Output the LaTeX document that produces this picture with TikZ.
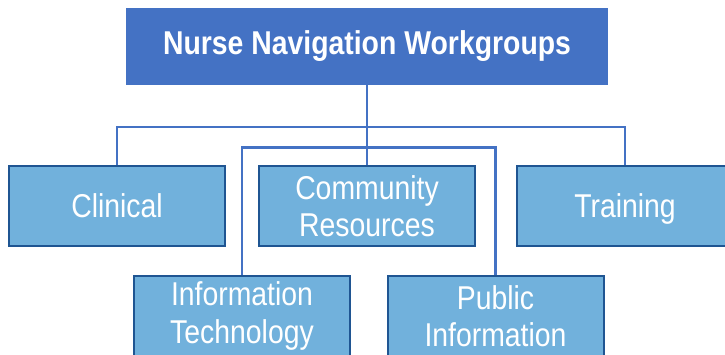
\documentclass[tikz,border=0pt]{standalone}
\usepackage{fontspec}
\setmainfont[FakeStretch=0.86]{Liberation Sans}
\definecolor{headblue}{HTML}{4472C4}
\definecolor{boxblue}{HTML}{71B1DC}
\definecolor{edgeblue}{HTML}{1F5592}
\tikzset{
  group/.style={draw=edgeblue, line width=2pt, fill=boxblue, text=white,
    minimum width=216, minimum height=80, inner sep=0pt, align=center,
    font=\fontsize{33}{37.5}\selectfont},
  link/.style={draw=headblue, line width=2.6pt},
}
\begin{document}
\begin{tikzpicture}[x=1pt, y=-1pt]
  \useasboundingbox (0, 0) rectangle (725, 355);
  \clip (0, 0) rectangle (725, 355);
  \node [fill=headblue, text=white, minimum width=482, minimum height=77,
    inner sep=0pt, font=\fontsize{33}{38}\selectfont\bfseries] (head) at (367, 46.5)
    {Nurse Navigation Workgroups};
  \node [group] (clin) at (117, 206) {Clinical};
  \node [group] (comm) at (367, 206) {Community\\Resources};
  \node [group] (train) at (625, 206) {Trainin\smash{g}};
  \node [group] (infotech) at (242, 316) {Information\\Technology};
  \node [group] (pubinfo) at (495.5, 316) {Public\\Information};
  \coordinate (busA) at (367, 127);
  \coordinate (busB) at (367, 147.5);
  \draw [link] (head.south) to (comm.north);
  \draw [link] (clin.north) |- (busA) -| (train.north);
  \draw [link] (infotech.north) |- (busB) -| (pubinfo.north);
\end{tikzpicture}
\end{document}
